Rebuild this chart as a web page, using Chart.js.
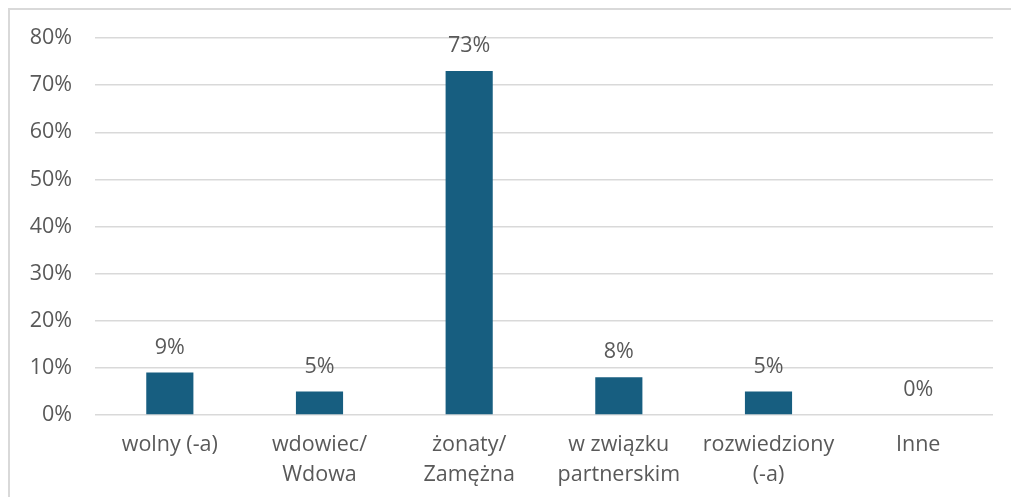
<!DOCTYPE html>
<html>
<head>
<meta charset="utf-8">
<script src="https://cdn.jsdelivr.net/npm/chart.js@4"></script>
<style>
html,body{margin:0;padding:0;background:#fff;overflow:hidden;}
#wrap{position:absolute;left:0;top:0;width:1011px;height:497px;}
#frame{position:absolute;left:8px;top:8px;width:1100px;height:600px;border-left:2px solid #d9d9d9;border-top:2px solid #d9d9d9;box-sizing:border-box;}
canvas{position:absolute;left:0;top:0;}
</style>
</head>
<body>
<div id="wrap">
<div id="frame"></div>
<canvas id="c" width="1011" height="497"></canvas>
</div>
<script>
const categories = [["wolny (-a)"], ["wdowiec/", "Wdowa"], ["żonaty/", "Zamężna"], ["w związku", "partnerskim"], ["rozwiedziony", "(-a)"], ["Inne"]];
const values = [9, 5, 73, 8, 5, 0];
const yTicks = [0, 10, 20, 30, 40, 50, 60, 70, 80];

const FONT = "'Open Sans', sans-serif";
const TEXT = '#595959';
const FS = 21.5;

const dataLabels = {
  id: 'dataLabels',
  afterDatasetsDraw(chart) {
    const ctx = chart.ctx;
    const meta = chart.getDatasetMeta(0);
    ctx.save();
    ctx.font = FS + 'px ' + FONT;
    ctx.fillStyle = TEXT;
    ctx.textAlign = 'center';
    ctx.textBaseline = 'middle';
    meta.data.forEach((el, i) => {
      ctx.fillText(values[i] + '%', el.x, el.y - 25);
    });
    ctx.restore();
  }
};

new Chart(document.getElementById('c'), {
  type: 'bar',
  data: {
    labels: categories,
    datasets: [{
      data: values,
      backgroundColor: '#175e80',
      borderWidth: 0,
      barPercentage: 0.63,
      categoryPercentage: 0.5
    }]
  },
  options: {
    responsive: false,
    animation: false,
    layout: { padding: { left: 0, right: 18, top: 38, bottom: 0 } },
    plugins: { legend: { display: false }, tooltip: { enabled: false } },
    scales: {
      y: {
        min: 0, max: 80,
        afterBuildTicks(s) { s.ticks = yTicks.map(v => ({ value: v })); },
        afterFit(s) { s.width = 95; },
        border: { display: false },
        grid: { color: '#d9d9d9', lineWidth: 1.5, drawTicks: false },
        ticks: {
          padding: 23,
          color: TEXT,
          font: { family: FONT, size: FS },
          callback: v => v + '%'
        }
      },
      x: {
        afterFit(s) { s.height = 82; },
        border: { display: false },
        grid: { display: false, drawTicks: false },
        ticks: {
          padding: 15,
          color: TEXT,
          maxRotation: 0,
          autoSkip: false,
          font: { family: FONT, size: FS, lineHeight: '30px' }
        }
      }
    }
  },
  plugins: [dataLabels]
});
</script>
</body>
</html>
